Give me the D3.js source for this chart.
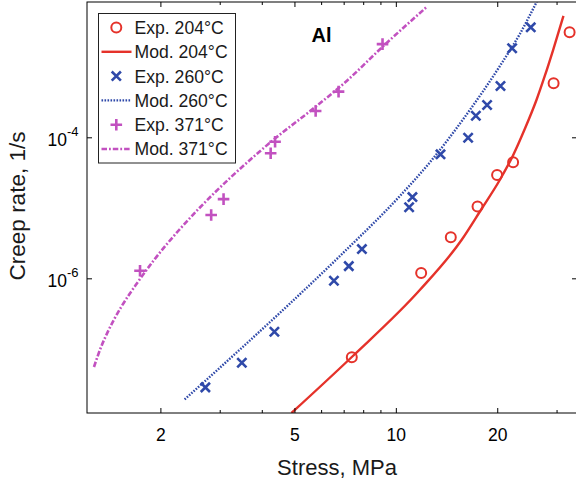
<!DOCTYPE html>
<html>
<head>
<meta charset="utf-8">
<script src="https://cdn.jsdelivr.net/npm/d3@7"></script>
<style>
  html, body { margin: 0; padding: 0; background: #fff; }
  svg { display: block; font-family: "Liberation Sans", Arial, Helvetica, sans-serif; }
</style>
</head>
<body>
<svg id="chart" width="576" height="482"></svg>
<script>
// Creep rate vs stress for Al at three temperatures (log-log)
const majorStressTicks = [2, 5, 10, 20];
const minorStressTicks = [3, 4, 6, 7, 8, 9, 30];
const rateTicks = [1e-6, 1e-4];
const rateTickExponents = ["-6", "-4"];

// Experimental points
const exp204Stress = [7.40, 11.89, 14.56, 17.48, 19.98, 22.29, 29.4, 32.8];
const exp204Rate   = [7.57e-8, 1.19e-6, 3.82e-6, 1.04e-5, 2.92e-5, 4.42e-5, 5.83e-4, 3.08e-3];

const exp260Stress = [2.72, 3.49, 4.36, 6.55, 7.25, 7.93, 10.95, 11.2, 13.57, 16.39, 17.28, 18.66, 20.45, 22.14, 25.15];
const exp260Rate   = [2.84e-8, 6.35e-8, 1.75e-7, 9.25e-7, 1.49e-6, 2.6e-6, 1.02e-5, 1.42e-5, 5.74e-5, 9.87e-5, 2.02e-4, 2.87e-4, 5.35e-4, 1.83e-3, 3.63e-3];

const exp371Stress = [1.74, 2.83, 3.08, 4.25, 4.38, 5.78, 6.76, 9.13];
const exp371Rate   = [1.28e-6, 7.9e-6, 1.33e-5, 5.93e-5, 8.67e-5, 2.36e-4, 4.44e-4, 2.1e-3];

// Model curves
const mod204Stress = [4.90, 7.40, 11.78, 15.67, 17.96, 20.35, 22.24, 24.14, 26.15, 27.68, 29.30, 31.45];
const mod204Rate   = [1.23e-8, 7.66e-8, 6.82e-7, 3.49e-6, 9.62e-6, 2.48e-5, 5.43e-5, 1.31e-4, 3.38e-4, 7.41e-4, 1.73e-3, 5.26e-3];

const mod260Stress = [2.36, 3.444, 4.848, 6.821, 10.28, 12.62, 16.02, 20.35, 23.33, 26.20];
const mod260Rate   = [1.92e-8, 9.77e-8, 4.39e-7, 2.07e-6, 1.47e-5, 4.41e-5, 1.94e-4, 1.02e-3, 2.91e-3, 8.36e-3];

const mod371Stress = [1.270, 1.332, 1.398, 1.528, 1.716, 1.927, 2.255, 2.620, 3.216, 3.816, 4.375, 5.557, 7.059, 9.15, 12.36];
const mod371Rate   = [5.52e-8, 1.05e-7, 1.77e-7, 3.88e-7, 8.91e-7, 1.89e-6, 4.65e-6, 1.01e-5, 2.64e-5, 5.50e-5, 9.59e-5, 2.34e-4, 5.97e-4, 1.94e-3, 7.08e-3];

const legendLabels = ["Exp. 204°C", "Mod. 204°C", "Exp. 260°C", "Mod. 260°C", "Exp. 371°C", "Mod. 371°C"];

const RED = "#e5322a", BLUE = "#2f49a9", MAGENTA = "#c251c0";

const zip = (xs, ys) => xs.map((v, i) => [v, ys[i]]);

const svg = d3.select("#chart");
const plotLeft = 87, plotRight = 577, plotTop = 2, plotBottom = 413;

const x = d3.scaleLog().domain([1.211, 34.5]).range([plotLeft, plotRight]);
const y = d3.scaleLog().domain([1.23e-8, 8.3e-3]).range([plotBottom, plotTop]);

svg.append("defs").append("clipPath").attr("id", "plotClip")
  .append("rect").attr("x", plotLeft).attr("y", plotTop)
  .attr("width", plotRight - plotLeft).attr("height", plotBottom - plotTop);

const plot = svg.append("g").attr("clip-path", "url(#plotClip)");

// model curves
const line = d3.line().x(d => x(d[0])).y(d => y(d[1])).curve(d3.curveMonotoneX);
const models = [
  { data: zip(mod204Stress, mod204Rate), color: RED, dash: null, w: 2.4 },
  { data: zip(mod260Stress, mod260Rate), color: BLUE, dash: "1.6,1.4", w: 2.4 },
  { data: zip(mod371Stress, mod371Rate), color: MAGENTA, dash: "5.5,2,1.8,2", w: 2.6 }
];
models.forEach(m => {
  plot.append("path").attr("d", line(m.data)).attr("fill", "none")
    .attr("stroke", m.color).attr("stroke-width", m.w)
    .attr("stroke-dasharray", m.dash);
});

// marker shapes
function drawCircle(g, cx, cy) {
  g.append("circle").attr("cx", cx).attr("cy", cy).attr("r", 5)
    .attr("fill", "none").attr("stroke", RED).attr("stroke-width", 2);
}
function drawCross(g, cx, cy) {
  const h = 4.6;
  g.append("path").attr("d", `M${cx - h},${cy - h}L${cx + h},${cy + h}M${cx - h},${cy + h}L${cx + h},${cy - h}`)
    .attr("stroke", BLUE).attr("stroke-width", 2.6).attr("fill", "none");
}
function drawPlus(g, cx, cy) {
  const h = 5.8;
  g.append("path").attr("d", `M${cx - h},${cy}L${cx + h},${cy}M${cx},${cy - h}L${cx},${cy + h}`)
    .attr("stroke", MAGENTA).attr("stroke-width", 2.6).attr("fill", "none");
}

const markers = svg.append("g");
zip(exp204Stress, exp204Rate).forEach(d => drawCircle(markers, x(d[0]), y(d[1])));
zip(exp260Stress, exp260Rate).forEach(d => drawCross(markers, x(d[0]), y(d[1])));
zip(exp371Stress, exp371Rate).forEach(d => drawPlus(markers, x(d[0]), y(d[1])));

// axes (ticks point inward)
const axisStyle = g => {
  g.select(".domain").remove();
  g.selectAll("line").attr("stroke", "#000").attr("stroke-width", 1);
};
svg.append("g").attr("transform", `translate(0,${plotBottom})`)
  .call(d3.axisBottom(x).tickValues(majorStressTicks).tickSize(-5).tickPadding(16).tickFormat(d3.format("d")))
  .call(axisStyle)
  .call(g => g.selectAll("text").attr("font-size", 17.5).attr("fill", "#000"));
svg.append("g").attr("transform", `translate(0,${plotBottom})`)
  .call(d3.axisBottom(x).tickValues(minorStressTicks).tickSize(-3).tickFormat(""))
  .call(axisStyle);
svg.append("g").attr("transform", `translate(0,${plotTop})`)
  .call(d3.axisTop(x).tickValues(majorStressTicks).tickSize(-5).tickFormat(""))
  .call(axisStyle);
svg.append("g").attr("transform", `translate(0,${plotTop})`)
  .call(d3.axisTop(x).tickValues(minorStressTicks).tickSize(-3).tickFormat(""))
  .call(axisStyle);
svg.selectAll(".tick text").attr("font-family", null);

const yAxis = svg.append("g").attr("transform", `translate(${plotLeft},0)`)
  .call(d3.axisLeft(y).tickValues(rateTicks).tickSize(-5).tickFormat(""))
  .call(axisStyle);
yAxis.selectAll(".tick").each(function(d, i) {
  const t = d3.select(this).append("text")
    .attr("x", -8.5).attr("y", 7.8).attr("text-anchor", "end")
    .attr("font-size", 17.5).attr("fill", "#000");
  t.append("tspan").text("10");
  t.append("tspan").attr("dy", -9.5).attr("font-size", 13).text(rateTickExponents[i]);
});
svg.append("g").attr("transform", `translate(${plotRight},0)`)
  .call(d3.axisRight(y).tickValues(rateTicks).tickSize(-5).tickFormat(""))
  .call(axisStyle);

// frame
svg.append("rect").attr("x", plotLeft).attr("y", plotTop)
  .attr("width", plotRight - plotLeft).attr("height", plotBottom - plotTop)
  .attr("fill", "none").attr("stroke", "#000").attr("stroke-width", 1);

// axis titles
svg.append("text").attr("x", 337).attr("y", 474.5).attr("text-anchor", "middle")
  .attr("font-size", 22).attr("fill", "#1a1a1a").text("Stress, MPa");
svg.append("text").attr("transform", "translate(25,206) rotate(-90)").attr("text-anchor", "middle")
  .attr("font-size", 22.5).attr("fill", "#1a1a1a").text("Creep rate, 1/s");

// material label
svg.append("text").attr("x", 321.5).attr("y", 41.7).attr("text-anchor", "middle")
  .attr("font-size", 20).attr("font-weight", "bold").attr("fill", "#000").text("Al");

// legend
const lg = svg.append("g");
lg.append("rect").attr("x", 98.5).attr("y", 13.5).attr("width", 137).attr("height", 149.5)
  .attr("fill", "#fff").attr("stroke", "#222").attr("stroke-width", 1);
const rowY = i => 27.5 + i * 24.3;
const symX = 116.3;
drawCircle(lg, symX, rowY(0));
drawCross(lg, symX, rowY(2));
drawPlus(lg, symX, rowY(4));
[[1, RED, null, 2.4], [3, BLUE, "1.6,1.4", 2.4], [5, MAGENTA, "5.5,2,1.8,2", 2.6]].forEach(([i, c, dash, w]) => {
  lg.append("line").attr("x1", 101.5).attr("x2", 131.5).attr("y1", rowY(i)).attr("y2", rowY(i))
    .attr("stroke", c).attr("stroke-width", w).attr("stroke-dasharray", dash);
});
legendLabels.forEach((s, i) => {
  lg.append("text").attr("x", 134.5).attr("y", rowY(i) + 6.4)
    .attr("font-size", 17.6).attr("fill", "#1a1a1a").text(s);
});
</script>
</body>
</html>
